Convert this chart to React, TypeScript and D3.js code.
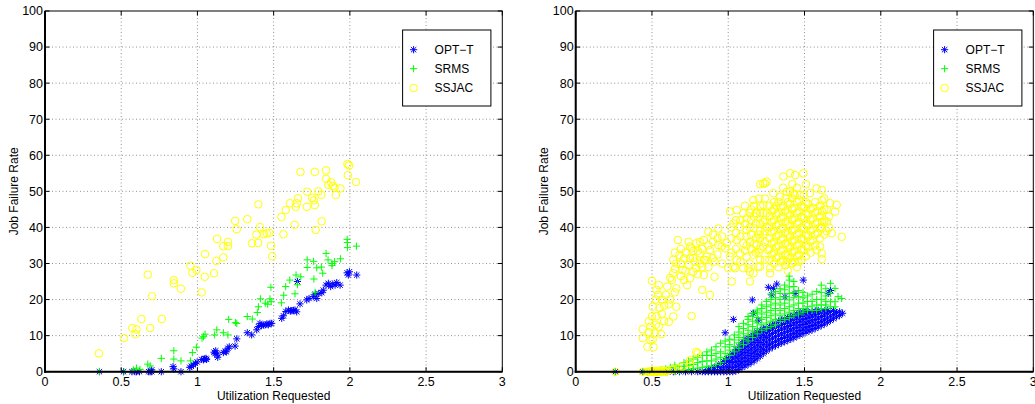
import React from 'react';
import * as d3 from 'd3';

// ---------- axis / labels ----------
const xTicks = [0, 0.5, 1, 1.5, 2, 2.5, 3];
const xTickLabels = ['0', '0.5', '1', '1.5', '2', '2.5', '3'];
const yTicks = [0, 10, 20, 30, 40, 50, 60, 70, 80, 90, 100];
const yTickLabels = ['0', '10', '20', '30', '40', '50', '60', '70', '80', '90', '100'];
const xLabel = 'Utilization Requested';
const yLabel = 'Job Failure Rate';
const seriesNames = ['OPT\u2212T', 'SRMS', 'SSJAC'];
const seriesColors = ['#0000ff', '#00ff00', '#ffff00'];
const seriesMarkers = ['star', 'plus', 'circle'];

// ---------- left panel data: [x, y] ----------
const leftOPT = [
  [0.357, 0], [0.515, 0], [0.57, 0], [0.59, 0], [0.6, 0], [0.62, 0], [0.68, 0], [0.69, 0], [0.7, 0], [0.7, 0.5],
  [0.763, 0], [0.84, 1.4], [0.845, 0.8], [0.892, 0], [0.95, 1.2], [0.96, 1.5], [0.973, 1.9], [0.987, 2.3], [0.998, 2.7],
  [1.028, 3.4], [1.04, 3.3], [1.048, 3.6], [1.056, 3.7], [1.06, 3.4], [1.109, 5.4], [1.115, 5.0], [1.12, 5.8], [1.13, 4.9],
  [1.133, 4.0], [1.17, 5.3], [1.183, 5.7], [1.19, 5.5], [1.2, 6.5], [1.209, 6.9], [1.247, 7.1], [1.258, 9.1], [1.327, 10.8],
  [1.356, 10.2], [1.389, 11.6], [1.4, 12.5], [1.41, 13.4], [1.42, 12.8], [1.432, 12.9], [1.445, 13.0], [1.455, 13.2],
  [1.465, 13.0], [1.476, 13.4], [1.487, 13.4], [1.553, 14.8], [1.564, 15.5], [1.58, 16.7], [1.597, 17.1], [1.61, 16.8],
  [1.619, 16.9], [1.63, 17.0], [1.64, 17.1], [1.651, 16.6], [1.656, 25.0], [1.673, 18.8], [1.717, 19.9], [1.732, 20.3],
  [1.76, 20.8], [1.774, 21.5], [1.783, 20.3], [1.796, 21.7], [1.816, 21.9], [1.826, 22.6], [1.844, 24.0], [1.859, 24.5],
  [1.874, 23.6], [1.888, 24.3], [1.903, 24.0], [1.914, 24.7], [1.936, 24.0], [1.982, 27.4], [1.99, 26.8], [1.997, 27.7],
  [2.045, 26.8],
];
const leftSRMS = [
  [0.357, 0.1], [0.518, 0], [0.58, 0.5], [0.6, 1.0], [0.623, 0.6], [0.674, 2.1], [0.69, 1.6], [0.763, 3.7], [0.845, 5.8],
  [0.845, 3.5], [0.892, 3.0], [0.954, 3.0], [0.967, 5.3], [0.993, 6.8], [1.03, 9.3], [1.04, 9.7], [1.05, 10.4], [1.113, 10.2],
  [1.127, 11.6], [1.17, 10.8], [1.2, 10.2], [1.205, 14.5], [1.249, 13.6], [1.258, 13.4], [1.327, 15.3], [1.36, 14.6],
  [1.393, 16.4], [1.4, 18.0], [1.413, 20.2], [1.445, 19.0], [1.461, 18.7], [1.476, 20.2], [1.484, 19.4], [1.482, 23.4],
  [1.551, 19.1], [1.566, 21.2], [1.579, 23.6], [1.606, 25.4], [1.64, 21.6], [1.647, 26.8], [1.656, 24.1], [1.678, 26.3],
  [1.72, 28.9], [1.72, 31.0], [1.762, 30.6], [1.764, 25.7], [1.772, 22.0], [1.783, 28.8], [1.813, 29.0], [1.822, 27.3],
  [1.844, 32.8], [1.857, 31.0], [1.883, 30.0], [1.883, 29.4], [1.9, 30.5], [1.938, 31.3], [1.982, 36.7], [1.984, 35.8],
  [1.984, 34.4], [2.043, 34.8],
];
const leftSSJAC = [
  [0.354, 5.1], [0.518, 9.3], [0.573, 12.1], [0.6, 11.7], [0.593, 10.4], [0.632, 14.6], [0.69, 12.1], [0.674, 26.9],
  [0.702, 20.9], [0.766, 14.6], [0.845, 25.4], [0.845, 24.5], [0.892, 23.0], [0.954, 29.4], [0.967, 27.4], [0.993, 28.2],
  [1.028, 22.0], [1.048, 26.3], [1.05, 32.6], [1.109, 27.3], [1.124, 30.7], [1.129, 36.8], [1.17, 34.8], [1.2, 36.0],
  [1.2, 34.8], [1.17, 31.7], [1.247, 41.8], [1.258, 39.5], [1.327, 42.3], [1.4, 46.4], [1.358, 35.6], [1.398, 35.7],
  [1.387, 38.0], [1.41, 40.1], [1.437, 38.1], [1.455, 38.4], [1.472, 38.5], [1.483, 34.9], [1.49, 32.0], [1.551, 42.9],
  [1.564, 38.1], [1.579, 44.8], [1.607, 46.7], [1.638, 40.7], [1.645, 45.7], [1.652, 46.7], [1.66, 48.1], [1.676, 55.4],
  [1.72, 49.9], [1.718, 45.7], [1.752, 48.2], [1.763, 47.5], [1.77, 46.2], [1.77, 55.4], [1.793, 50.0], [1.813, 49.0],
  [1.776, 39.3], [1.815, 41.7], [1.844, 55.8], [1.844, 53.5], [1.859, 51.8], [1.877, 52.5], [1.888, 51.5], [1.9, 51.0],
  [1.908, 49.0], [1.938, 50.8], [1.984, 57.6], [1.995, 57.2], [1.987, 54.5], [2.04, 52.6],
];

// ---------- right panel data: rows of [x, y1, y2, ...] ----------
const rightOPTRows = [
  [0.26, 0], [0.44, 0], [0.47, 0], [0.5, 0], [0.53, 0], [0.56, 0], [0.6, 0], [0.64, 0], [0.68, 0], [0.72, 0], [0.76, 0],
  [0.8, 0], [0.83, 0],
  [0.85, 0], [0.87, 0, 0.6], [0.89, 0, 1], [0.91, 0, 1.2], [0.93, 0, 1.5], [0.95, 0, 1.2, 2.3], [0.97, 0, 1.3, 2.8],
  [0.99, 0, 1.4, 2.8, 3.6], [1.01, 0, 1.3, 2.6, 3.9, 4.5], [1.03, 0, 1.2, 2.5, 3.8, 5],
  [1.05, 0.2, 1.5, 2.8, 4.1, 5.4, 6.2], [1.07, 0.6, 1.8, 3, 4.3, 5.6, 7], [1.09, 1.2, 2.4, 3.6, 4.9, 6.2, 7.5, 8],
  [1.11, 1.6, 2.8, 4, 5.3, 6.6, 7.9, 8.8], [1.13, 2, 3.2, 4.5, 5.8, 7.1, 8.4, 9.3], [1.15, 2.5, 3.7, 5, 6.3, 7.6, 8.9, 9.8],
  [1.17, 3, 4.2, 5.5, 6.8, 8.1, 9.4, 10.5], [1.19, 3.6, 4.8, 6.1, 7.4, 8.7, 10, 11], [1.21, 4.3, 5.5, 6.8, 8.1, 9.4, 10.7, 11.5],
  [1.23, 5, 6.2, 7.5, 8.8, 10.1, 11.4, 12], [1.25, 5.7, 6.9, 8.2, 9.5, 10.8, 12.1], [1.27, 6.3, 7.5, 8.8, 10.1, 11.4, 12.5],
  [1.29, 6.8, 8, 9.3, 10.6, 11.9, 13], [1.31, 7.2, 8.4, 9.7, 11, 12.3, 13.5], [1.33, 7.6, 8.8, 10.1, 11.4, 12.7, 14],
  [1.35, 8, 9.2, 10.5, 11.8, 13.1, 14.3], [1.37, 8.3, 9.5, 10.8, 12.1, 13.4, 14.6], [1.39, 8.7, 9.9, 11.2, 12.5, 13.8, 15],
  [1.41, 9, 10.2, 11.5, 12.8, 14.1, 15.3], [1.43, 9.4, 10.6, 11.9, 13.2, 14.5, 15.6], [1.45, 9.8, 11, 12.3, 13.6, 14.9, 16],
  [1.47, 10.2, 11.4, 12.7, 14, 15.3, 16.3], [1.49, 10.6, 11.8, 13.1, 14.4, 15.7, 16.5], [1.51, 11, 12.2, 13.5, 14.8, 16.1, 16.8],
  [1.53, 11.3, 12.5, 13.8, 15.1, 16.4], [1.55, 11.6, 12.8, 14.1, 15.4, 16.6], [1.57, 12, 13.2, 14.5, 15.8, 16.8],
  [1.59, 12.4, 13.6, 14.9, 16.2, 17], [1.61, 12.8, 14, 15.3, 16.6], [1.63, 13.2, 14.4, 15.7, 16.8], [1.65, 13.7, 14.9, 16.2, 17],
  [1.67, 14.2, 15.4, 16.7], [1.69, 14.7, 15.9, 17], [1.71, 15.2, 16.4], [1.73, 15.6, 16.6], [1.75, 16.2],
  // scattered outliers above the band
  [0.98, 10.8], [1.034, 14.5], [1.158, 19.9], [1.165, 16.2], [1.197, 14.3], [1.263, 23.4], [1.285, 21.3], [1.296, 23.1],
  [1.318, 24.3], [1.372, 20.8], [1.438, 21.7], [1.492, 25.4], [1.656, 21.7], [1.67, 22.5],
];
const rightSRMSRows = [
  [0.26, 0], [0.44, 0], [0.47, 0], [0.5, 0, 0.4], [0.53, 0], [0.56, 0, 0.5], [0.59, 0, 0.8], [0.62, 0.2, 1.2],
  [0.65, 0, 1, 1.8], [0.68, 0.3, 1.5], [0.71, 0.5, 1.5, 2.5], [0.74, 0.5, 1.8, 3], [0.77, 0.8, 2, 3.5], [0.8, 1, 2.5, 4],
  [0.83, 1.2, 2.8, 4.5], [0.86, 1.5, 3, 4.5, 5.5], [0.89, 1.5, 3, 4.5, 6], [0.92, 2, 3.5, 5, 6.9], [0.95, 2.5, 4, 5.5, 7.9],
  [0.98, 3.5, 5, 6.9, 8.5], [1.01, 4.5, 6, 7.5, 9], [1.04, 5.5, 7, 8.8, 10.2], [1.07, 6.5, 8, 9.5, 11, 12.5],
  [1.1, 7.5, 9, 10.5, 12, 13.4], [1.13, 8.5, 10, 11.5, 13, 14.5, 15.3], [1.16, 9.5, 11, 12.5, 14, 15.5, 16.2],
  [1.19, 10.5, 12, 13.5, 15, 16.5, 17.1], [1.22, 11.5, 13, 14.5, 16, 17.5, 18.5], [1.25, 12, 13.5, 15, 16.5, 18, 19.5],
  [1.28, 12.5, 14, 15.5, 17, 18.5, 20, 21.5], [1.31, 13, 14.5, 16, 17.5, 19, 20.5, 22.2],
  [1.34, 13.9, 15.5, 17, 18.5, 20, 21.7, 23], [1.37, 14.5, 16, 17.5, 19, 20.8, 22.7, 24],
  [1.4, 15, 16.5, 18, 19.9, 21.7, 23.5, 25.4, 26.5], [1.43, 15.5, 17, 18.5, 20.5, 22, 23.6, 25],
  [1.46, 16, 17.5, 19, 20.8, 22.5], [1.49, 16.5, 17.5, 19, 20.5, 22], [1.52, 17, 18, 19.5, 21], [1.55, 17, 18.2, 19.5, 21.5],
  [1.58, 17, 18.5, 20, 22.2], [1.61, 17.5, 18.5, 20, 22, 24], [1.64, 17.5, 18.5, 19.5, 21, 23], [1.67, 18, 19.4, 21.7, 24.5],
  [1.7, 18, 19.4, 23.1], [1.72, 20.8], [1.744, 20.3],
];
const rightSSJACRows = [
  [0.26, 0], [0.44, 0, 9.3, 11.8], [0.47, 0, 6.9], [0.49, 0, 8.8, 12.5], [0.5, 0, 15.3, 25.2], [0.51, 0, 6.8],
  [0.52, 0, 10.6], [0.53, 0, 15.4, 22.7], [0.54, 0, 21.3], [0.55, 0, 17.7], [0.56, 0, 10.4], [0.58, 0, 18.3, 14],
  [0.59, 0, 21.3], [0.6, 0.3, 23.6], [0.61, 18.7, 13.8], [0.63, 25.4, 0.5], [0.64, 27.3, 31, 15.3, 0.7],
  [0.66, 30, 18, 23.1], [0.67, 36.5, 0.9], [0.68, 32.4], [0.7, 28.2, 1.4], [0.71, 25.4, 31.4], [0.73, 24],
  [0.75, 25.9, 34.7, 31.4, 2.3, 3.2], [0.76, 15.4, 34.2], [0.77, 27.7], [0.78, 30.5], [0.79, 28.7, 35.6, 5.5], [0.8, 5.1],
  [0.815, 32.8, 36, 30], [0.83, 22.7], [0.84, 36.5, 31, 26.8], [0.85, 31], [0.86, 31.9], [0.87, 38.8], [0.88, 21.3, 33.7],
  [0.9, 36], [0.91, 26.3, 30.5], [0.935, 39.7, 35.1], [0.957, 34.7], [0.98, 34.2], [0.99, 35.6], [1.0, 28.7],
  [1.012, 44.4, 31.9], [1.023, 25.0], [1.034, 41.1, 29.1], [1.045, 28.7], [1.056, 44.8, 36.5, 31], [1.077, 40.2, 32.8],
  [1.099, 43.9, 35.6, 28.7], [1.121, 42.5, 39.3, 31.9], [1.132, 28.7], [1.143, 36, 27.7, 25], [1.165, 47.6, 39.8, 32.4, 27.3],
  [1.187, 43.9, 35.1], [1.197, 29.1], [1.209, 52, 41.1, 31, 29.1], [1.23, 46.2, 34.7, 52.2], [1.241, 52.2],
  [1.252, 43.9, 40.2, 52.7], [1.263, 33.7], [1.274, 27.3, 28.7], [1.296, 49.5], [1.34, 48.5], [1.361, 54.1],
  [1.384, 49.9, 30.5], [1.405, 55], [1.427, 49.5], [1.438, 54.5], [1.46, 30.5], [1.471, 49], [1.492, 55], [1.536, 49.5],
  [1.58, 50.8, 33.7], [1.602, 34.7], [1.613, 50.4, 39.8, 32.8, 31.2], [1.646, 41.6], [1.668, 46.7], [1.679, 38.4],
  [1.7, 44.4], [1.711, 46.2], [1.744, 37.4],
  // left arm, extra
  [0.48, 0, 11, 14], [0.505, 0.3, 9, 18], [0.525, 0, 13, 20], [0.545, 0.3, 12.5, 24], [0.565, 0, 16, 20], [0.575, 0.4],
  [0.62, 20, 26], [0.65, 22, 28.5, 33], [0.69, 26.5, 30, 34], [0.72, 28, 33], [0.74, 29.5, 36], [0.77, 31.5, 33.5],
  [0.8, 27, 33.5], [0.83, 29, 34], [0.87, 29, 35], [0.9, 31.5, 38], [0.93, 32.5, 37], [0.96, 30, 37.5],
  // middle, extra
  [1.02, 33, 37, 40], [1.05, 34, 38.5, 42], [1.08, 30.5, 37.5, 42], [1.11, 33.5, 41, 46], [1.14, 30, 40, 44],
  [1.17, 35.5, 43, 46], [1.2, 33, 38, 48], [1.23, 38, 41.5, 44],
  // dense core
  [1.12, 35, 37.5], [1.15, 34, 38, 42, 45], [1.18, 33, 37, 41, 44], [1.21, 34, 37, 39, 44, 46], [1.24, 31, 36, 39, 42, 48],
  [1.27, 31, 34, 37, 40, 43, 46], [1.3, 30, 33, 36, 39, 42, 45, 47], [1.33, 29, 32, 35, 38, 41, 44, 47],
  [1.36, 31, 34, 37, 40, 43, 46, 51], [1.39, 28, 32, 35, 38, 41, 44, 47], [1.42, 30, 33, 36, 39, 42, 45, 48, 52],
  [1.45, 29, 32, 35, 38, 41, 44, 47, 51], [1.48, 31, 34, 37, 40, 43, 46], [1.51, 32, 35, 38, 41, 44, 47, 52],
  [1.54, 33, 36, 39, 42, 45], [1.57, 35, 38, 41, 44, 47], [1.6, 37, 40, 43, 46], [1.63, 38, 42, 45, 48], [1.66, 40, 43],
  [1.285, 32.5, 35.5, 38.5, 41.5, 44.5], [1.315, 31.5, 34.5, 37.5, 40.5, 43.5, 46], [1.345, 30.5, 33.5, 36.5, 39.5, 42.5, 45.5],
  [1.375, 29.5, 32.5, 35.5, 38.5, 41.5, 44.5, 48], [1.405, 31.5, 34.5, 37.5, 40.5, 43.5, 46.5, 50],
  [1.435, 30.5, 33.5, 36.5, 39.5, 42.5, 45.5, 49], [1.465, 32.5, 35.5, 38.5, 41.5, 44.5, 47.5],
  [1.495, 33.5, 36.5, 39.5, 42.5, 45.5, 49], [1.525, 34.5, 37.5, 40.5, 43.5, 46.5], [1.555, 36.5, 39.5, 42.5, 45.5],
  [1.585, 38.5, 41.5, 44.5], [1.615, 41.5, 44.5, 47.5], [1.645, 39, 45],
];

const expand = (rows: number[][]) => rows.flatMap(([x, ...ys]) => ys.map((y) => [x, y]));
const rightOPT = expand(rightOPTRows);
const rightSRMS = expand(rightSRMSRows);
const rightSSJAC = expand(rightSSJACRows);

const FONT = '"Liberation Sans", Arial, Helvetica, sans-serif';

function markerPath(kind: string, x: number, y: number): string {
  if (kind === 'star') {
    const h = 3.6, d = 2.7;
    return `M${x - h},${y}H${x + h}M${x},${y - h}V${y + h}M${x - d},${y - d}L${x + d},${y + d}M${x - d},${y + d}L${x + d},${y - d}`;
  }
  if (kind === 'plus') {
    const h = 3.6;
    return `M${x - h},${y}H${x + h}M${x},${y - h}V${y + h}`;
  }
  const p = d3.path();
  p.moveTo(x + 3.8, y);
  p.arc(x, y, 3.8, 0, Math.PI * 2);
  return p.toString();
}

function Panel({ left, right, top, bottom, yLabelX, data }: any) {
  const xs = d3.scaleLinear().domain([0, 3]).range([left, right]);
  const ys = d3.scaleLinear().domain([0, 100]).range([bottom, top]);
  const lgRight = right - 11.4;
  const lgLeft = lgRight - 88.3;
  const lgTop = 30;
  const lgRows = [19.7, 38.7, 58];
  return (
    <g>
      {xTicks.slice(1, -1).map((t) => (
        <line key={'gx' + t} x1={xs(t)} x2={xs(t)} y1={top} y2={bottom} stroke="#777" strokeWidth={0.8} strokeDasharray="1 2.5" />
      ))}
      {yTicks.slice(1, -1).map((t) => (
        <line key={'gy' + t} x1={left} x2={right} y1={ys(t)} y2={ys(t)} stroke="#777" strokeWidth={0.8} strokeDasharray="1 2.5" />
      ))}
      {data.map((pts: number[][], si: number) => (
        <path
          key={'s' + si}
          d={pts.map(([x, y]) => markerPath(seriesMarkers[si], xs(x), ys(y))).join('')}
          fill="none"
          stroke={seriesColors[si]}
          strokeWidth={1}
        />
      ))}
      <rect x={left} y={top} width={right - left} height={bottom - top} fill="none" stroke="#000" strokeWidth={1} />
      <line x1={left} x2={left} y1={top} y2={bottom + 1} stroke="#000" strokeWidth={2} />
      <line x1={left - 1} x2={right} y1={bottom} y2={bottom} stroke="#000" strokeWidth={2} />
      {xTicks.map((t) => (
        <g key={'tx' + t}>
          <line x1={xs(t)} x2={xs(t)} y1={bottom} y2={bottom - 4.5} stroke="#000" />
          <line x1={xs(t)} x2={xs(t)} y1={top} y2={top + 4.5} stroke="#000" />
        </g>
      ))}
      {yTicks.map((t) => (
        <g key={'ty' + t}>
          <line x1={left} x2={left + 4.5} y1={ys(t)} y2={ys(t)} stroke="#000" />
          <line x1={right} x2={right - 4.5} y1={ys(t)} y2={ys(t)} stroke="#000" />
        </g>
      ))}
      {xTicks.map((t, i) => (
        <text key={'lx' + t} x={xs(t)} y={385.5} textAnchor="middle" fontSize={12.5} fontFamily={FONT} fill="#000">
          {xTickLabels[i]}
        </text>
      ))}
      {yTicks.map((t, i) => (
        <text key={'ly' + t} x={left - 2} y={ys(t) + 4.4} textAnchor="end" fontSize={12.5} fontFamily={FONT} fill="#000">
          {yTickLabels[i]}
        </text>
      ))}
      <text x={(left + right) / 2} y={399.5} textAnchor="middle" fontSize={12} fontFamily={FONT} fill="#000">
        {xLabel}
      </text>
      <text
        transform={`translate(${yLabelX},${(top + bottom) / 2}) rotate(-90)`}
        textAnchor="middle"
        fontSize={12}
        fontFamily={FONT}
        fill="#000"
      >
        {yLabel}
      </text>
      <rect x={lgLeft} y={lgTop} width={lgRight - lgLeft} height={76} fill="#fff" stroke="#000" strokeWidth={1} />
      {seriesNames.map((n, i) => (
        <g key={'lg' + i}>
          <path d={markerPath(seriesMarkers[i], lgLeft + 11, lgTop + lgRows[i])} fill="none" stroke={seriesColors[i]} strokeWidth={1} />
          <text x={lgLeft + 32} y={lgTop + lgRows[i] + 4.2} fontSize={12} fontFamily={FONT} fill="#000">
            {n}
          </text>
        </g>
      ))}
    </g>
  );
}

export default function App() {
  return (
    <svg width={1035} height={404} style={{ position: 'absolute', left: 0, top: 0, background: '#fff' }}>
      <rect x={0} y={0} width={1035} height={404} fill="#fff" />
      <Panel left={45} right={502.3} top={11} bottom={371.7} yLabelX={17.5} data={[leftOPT, leftSRMS, leftSSJAC]} />
      <Panel left={575.7} right={1033.3} top={11} bottom={371.7} yLabelX={547.5} data={[rightOPT, rightSRMS, rightSSJAC]} />
    </svg>
  );
}
